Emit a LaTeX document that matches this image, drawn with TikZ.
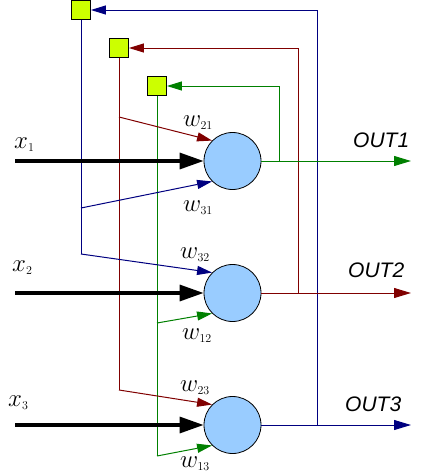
\documentclass[tikz,border=0pt]{standalone}
\usepackage{fontspec}
\newfontfamily\outfont{Liberation Sans}
\definecolor{NetBlue}{RGB}{0,0,128}
\definecolor{NetRed}{RGB}{128,0,0}
\definecolor{NetGreen}{RGB}{0,128,0}
\definecolor{NeuronFill}{RGB}{153,204,255}
\definecolor{DelayFill}{RGB}{204,255,0}
\usetikzlibrary{arrows.meta}

\begin{document}
\begin{tikzpicture}[x=1pt, y=-1pt,
    neuron/.style={circle, draw=black, fill=NeuronFill, minimum size=57pt, inner sep=0pt, line width=0.8pt},
    delay/.style={rectangle, draw=black, fill=DelayFill, minimum size=19pt, inner sep=0pt, line width=0.8pt},
    wire/.style={draw=#1, line width=1pt},
    arr/.style={wire=#1, -{Triangle[length=15pt, width=9pt]}},
    outarr/.style={wire=#1, -{Triangle[length=17pt, width=10pt]}},
    inarr/.style={-{Triangle[length=24pt, width=16pt]}, line width=3.3pt, black},
    lab/.style={anchor=base west, inner sep=0pt, font=\Huge},
    outlab/.style={anchor=base west, inner sep=0pt, font=\outfont\itshape\fontsize{21}{21}\selectfont}
]
    \useasboundingbox (0,0) rectangle (430,474);
    \node[delay] (d1) at (81,10) {};
    \node[delay] (d2) at (119,48) {};
    \node[delay] (d3) at (157,86) {};
    \node[neuron] (n1) at (232.5,161) {};
    \node[neuron] (n2) at (232.5,293) {};
    \node[neuron] (n3) at (232.5,425) {};
    \coordinate (in1) at (15,161);
    \coordinate (in2) at (15,293);
    \coordinate (in3) at (15,425);
    \coordinate (out1) at (411,161);
    \coordinate (out2) at (411,293);
    \coordinate (out3) at (411,425);
    \coordinate (b1) at (279,161);
    \coordinate (b2) at (298,293);
    \coordinate (b3) at (317,425);
    \coordinate (k21) at (119,117);
    \coordinate (k31) at (81,208);
    \coordinate (k32) at (81,254);
    \coordinate (k12) at (157,323);
    \coordinate (k23) at (119,390);
    \coordinate (k13) at (157,456);
    \draw[wire=NetBlue] (d1) -- (k32);
    \draw[wire=NetRed] (d2) -- (k23);
    \draw[wire=NetGreen] (d3) -- (k13);
    \draw[arr=NetRed] (k21) -- (n1.135);
    \draw[arr=NetBlue] (k31) -- (n1.225);
    \draw[arr=NetBlue] (k32) -- (n2.135);
    \draw[arr=NetGreen] (k12) -- (n2.225);
    \draw[arr=NetRed] (k23) -- (n3.135);
    \draw[arr=NetGreen] (k13) -- (n3.225);
    \draw[arr=NetGreen] (b1) |- (d3);
    \draw[arr=NetRed] (b2) |- (d2);
    \draw[arr=NetBlue] (b3) |- (d1);
    \draw[outarr=NetGreen] (n1) -- (out1);
    \draw[outarr=NetRed] (n2) -- (out2);
    \draw[outarr=NetBlue] (n3) -- (out3);
    \draw[inarr] (in1) -- (n1);
    \draw[inarr] (in2) -- (n2);
    \draw[inarr] (in3) -- (n3);
    \node[lab] (lx1) at (14,148) {$x_{\mbox{\large 1}}$};
    \node[lab] (lx2) at (12,271) {$x_{\mbox{\large 2}}$};
    \node[lab] (lx3) at (8,406) {$x_{\mbox{\large 3}}$};
    \node[lab] (lw21) at (183,126) {$w_{\mbox{\large 21}}$};
    \node[lab] (lw31) at (183,211) {$w_{\mbox{\large 31}}$};
    \node[lab] (lw32) at (180,258) {$w_{\mbox{\large 32}}$};
    \node[lab] (lw12) at (182,339) {$w_{\mbox{\large 12}}$};
    \node[lab] (lw23) at (180,391) {$w_{\mbox{\large 23}}$};
    \node[lab] (lw13) at (180,467) {$w_{\mbox{\large 13}}$};
    \node[outlab] (lo1) at (353,147) {OUT1};
    \node[outlab] (lo2) at (348,277) {OUT2};
    \node[outlab] (lo3) at (345,411) {OUT3};
\end{tikzpicture}
\end{document}
